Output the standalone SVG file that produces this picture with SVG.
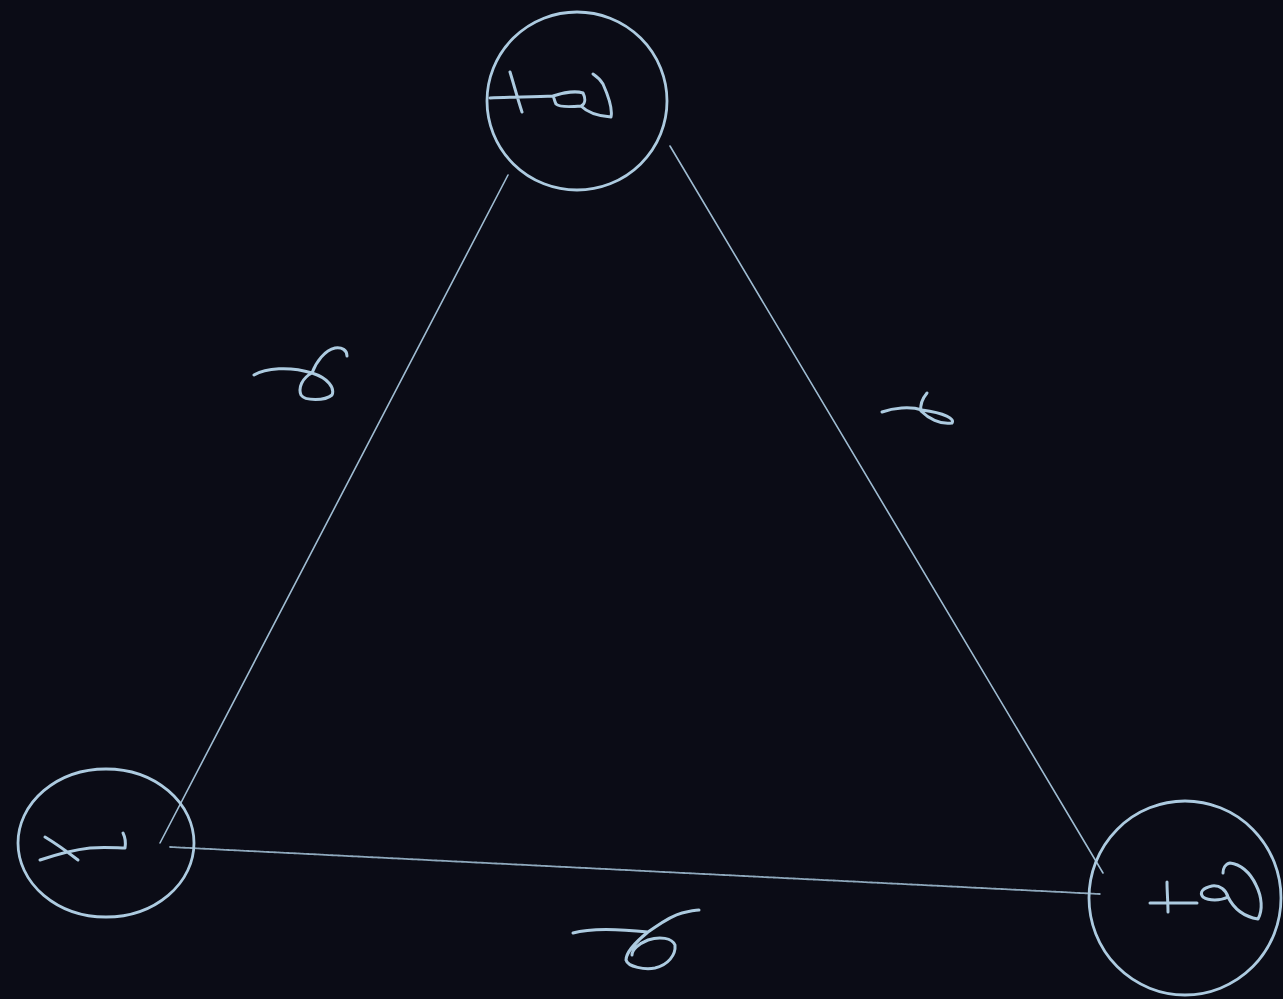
<svg xmlns="http://www.w3.org/2000/svg" width="1283" height="999" viewBox="0 0 1283 999">
<style>
.bg{fill:#0b0c16}
.ring{fill:none;stroke:#adcbe0;stroke-width:2.8}
.mark{fill:none;stroke:#adcbe0;stroke-width:3;stroke-linecap:round;stroke-linejoin:round}
.edge{fill:none;stroke:#9fbcd2;stroke-width:1.6;stroke-linecap:round}
.edge-soft{fill:none;stroke:#8fa9bd;stroke-width:1.8;stroke-dasharray:3 1;stroke-linecap:round}
</style>
<rect class="bg" x="0" y="0" width="1283" height="999"/>
<g id="connectors">
  <path id="edge-left" class="edge" d="M508 175 L160 843"/>
  <path id="edge-right" class="edge" d="M670 146 L1103 873"/>
  <path id="edge-bottom" class="edge-soft" d="M170 847 L1100 894"/>
  <path id="label-left" class="mark" d="M254 375 C265 368 290 366 312 373 M312 373 C302 378 298 388 301 395 C305 401 325 401 332 395 C335 388 328 378 312 373 M312 373 C316 362 325 350 335 348 C342 347 347 350 347 356"/>
  <path id="label-right" class="mark" d="M882 412 C893 408 910 406 922 410 M927 393 C922 399 920 405 921 411 C928 418 940 425 952 423 C955 419 945 413 922 410"/>
  <path id="label-bottom" class="mark" d="M573 933 C590 928 620 929 648 932 M648 932 C660 924 670 916 682 913 M682 913 C690 911 695 910 699 910 M648 932 C638 940 626 952 626 960 C628 967 645 970 655 968 C668 965 676 955 675 945 C672 938 660 936 648 940 C638 944 632 950 632 955"/>
</g>
<g id="node-top">
  <ellipse class="ring" cx="577" cy="101" rx="90" ry="89"/>
  <path class="mark" d="M490 98 C510 97 535 97 553 96 M510 72 C514 85 518 100 522 112 M553 96 C565 92 577 91 583 93 C586 99 585 104 581 106 C570 107 559 107 556 104 C554 100 554 97 553 96 M581 106 C586 111 596 116 611 117 C613 108 607 93 603 84 C600 79 596 76 593 74"/>
</g>
<g id="node-left">
  <ellipse class="ring" cx="106" cy="843" rx="88" ry="74"/>
  <path class="mark" d="M40 860 C55 855 72 850 90 848 C105 847 118 848 125 848 C126 842 125 837 123 833 M45 837 C55 843 65 850 78 860"/>
</g>
<g id="node-right">
  <ellipse class="ring" cx="1185" cy="898" rx="96" ry="97"/>
  <path class="mark" d="M1150 903 C1165 903 1182 903 1197 903 M1167 882 C1167 892 1168 902 1168 912 M1228 897 C1220 901 1209 901 1203 897 C1199 892 1203 888 1212 886 C1220 885 1226 890 1228 897 C1232 905 1240 916 1258 919 C1263 910 1262 897 1256 885 C1250 872 1240 864 1230 863 C1225 864 1223 869 1223 873"/>
</g>
</svg>
